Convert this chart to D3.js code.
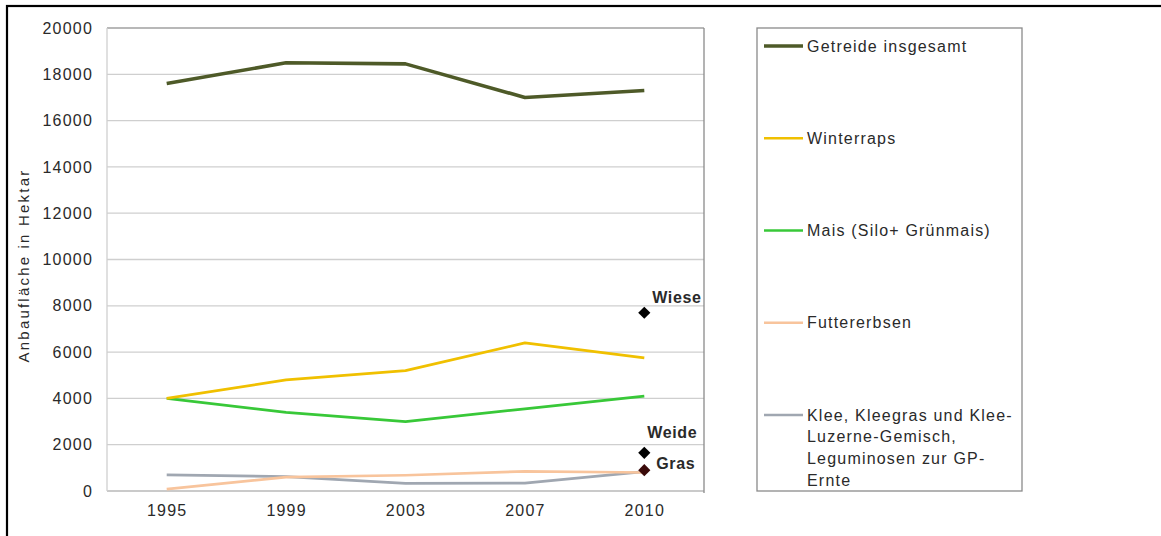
<!DOCTYPE html>
<html>
<head>
<meta charset="utf-8">
<script src="https://cdn.jsdelivr.net/npm/d3@7"></script>
<style>
  html, body { margin: 0; padding: 0; background: #fff; }
  svg { display: block; }
  text { font-family: "Liberation Sans", Arial, sans-serif; fill: #2a2a2a; }
</style>
</head>
<body>
<svg id="chart" width="1161" height="536"></svg>
<script>
// ---- data ----
const years = ["1995", "1999", "2003", "2007", "2010"];
const yTicks = [0, 2000, 4000, 6000, 8000, 10000, 12000, 14000, 16000, 18000, 20000];
const getreide = [17600, 18500, 18450, 17000, 17300];
const winterraps = [4000, 4800, 5200, 6400, 5750];
const mais = [4000, 3400, 3000, 3550, 4100];
const futtererbsen = [80, 600, 680, 850, 800];
const klee = [700, 620, 330, 340, 840];
const seriesNames = ["Getreide insgesamt", "Winterraps", "Mais (Silo+ Grünmais)", "Futtererbsen",
  "Klee, Kleegras und Klee-|Luzerne-Gemisch,|Leguminosen zur GP-|Ernte"];
const seriesColors = ["#4e5a28", "#f0c000", "#38c838", "#f8c49c", "#a0a7b1"];
const seriesWidths = [3.6, 2.7, 2.7, 2.7, 2.7];
const markerYear = "2010";
const markerNames = ["Wiese", "Weide", "Gras"];
const markerValues = [7700, 1650, 900];
const markerColors = ["#000", "#000", "#3a0a0a"];
const yTitle = "Anbaufläche in Hektar";

const seriesValues = [getreide, winterraps, mais, futtererbsen, klee];

// ---- layout ----
const svg = d3.select("#chart");
const plot = { left: 107, top: 28, right: 704, bottom: 491 };

// outer frame
svg.append("rect").attr("x", 7).attr("y", 6).attr("width", 1170).attr("height", 560)
  .attr("fill", "none").attr("stroke", "#000").attr("stroke-width", 2.2);

const x = d3.scalePoint().domain(years).range([plot.left, plot.right]).padding(0.5);
const y = d3.scaleLinear().domain([0, 20000]).range([plot.bottom, plot.top]);

// gridlines
svg.append("g").selectAll("line").data(yTicks).join("line")
  .attr("x1", plot.left).attr("x2", plot.right)
  .attr("y1", d => y(d)).attr("y2", d => y(d))
  .attr("stroke", d => (d === 20000 || d === 0) ? "#b8b8b8" : "#cfcfcf")
  .attr("stroke-width", d => (d === 20000) ? 2 : 1.3);

// plot left / right edges
svg.append("line").attr("x1", plot.left).attr("x2", plot.left)
  .attr("y1", plot.top).attr("y2", plot.bottom).attr("stroke", "#d0d0d0").attr("stroke-width", 1.3);
svg.append("line").attr("x1", plot.right).attr("x2", plot.right)
  .attr("y1", plot.top).attr("y2", plot.bottom + 2).attr("stroke", "#8a8a8a").attr("stroke-width", 1.3);

// y axis labels
const yAxis = d3.axisLeft(y).tickValues(yTicks).tickSize(0).tickPadding(14).tickFormat(d3.format("d"));
const gy = svg.append("g").attr("transform", `translate(${plot.left},0)`).call(yAxis);
gy.select(".domain").remove();
gy.selectAll("text").style("font-size", "16px").style("letter-spacing", "1.2px")
  .style("font-family", "'Liberation Sans', Arial, sans-serif").attr("fill", "#333");

// x axis labels
const xAxis = d3.axisBottom(x).tickSize(0).tickPadding(14);
const gx = svg.append("g").attr("transform", `translate(0,${plot.bottom})`).call(xAxis);
gx.select(".domain").remove();
gx.selectAll("text").style("font-size", "16px").style("letter-spacing", "1.2px")
  .style("font-family", "'Liberation Sans', Arial, sans-serif").attr("fill", "#333");

// y title
svg.append("text")
  .attr("transform", `translate(29,${(plot.top + plot.bottom) / 2 + 6}) rotate(-90)`)
  .attr("text-anchor", "middle")
  .style("font-size", "15px").style("letter-spacing", "2.2px")
  .text(yTitle);

// lines
const line = d3.line().x((d, i) => x(years[i])).y(d => y(d));
const order = [4, 3, 2, 1, 0];
order.forEach(i => {
  svg.append("path").datum(seriesValues[i])
    .attr("d", line)
    .attr("fill", "none")
    .attr("stroke", seriesColors[i])
    .attr("stroke-width", seriesWidths[i])
    .attr("stroke-linejoin", "round");
});

// markers
const diamond = d3.symbol().type(d3.symbolDiamond2).size(95);
svg.append("g").selectAll("path").data(markerValues).join("path")
  .attr("d", diamond)
  .attr("transform", d => `translate(${x(markerYear)},${y(d)})`)
  .attr("fill", (d, i) => markerColors[i]);

const markerLabelPos = [
  { dx: 8, dy: -15 },
  { dx: 3, dy: -20 },
  { dx: 12, dy: -7 }
];
svg.append("g").selectAll("text").data(markerValues).join("text")
  .attr("x", (d, i) => x(markerYear) + markerLabelPos[i].dx)
  .attr("y", (d, i) => y(d) + markerLabelPos[i].dy)
  .attr("dy", "0.35em")
  .style("font-size", "16px").style("font-weight", "bold").style("letter-spacing", "0.6px")
  .attr("fill", "#2a2a2a")
  .text((d, i) => markerNames[i]);

// legend
const legend = { x: 757, y: 28, w: 265, h: 463 };
svg.append("rect").attr("x", legend.x).attr("y", legend.y)
  .attr("width", legend.w).attr("height", legend.h)
  .attr("fill", "#fff").attr("stroke", "#8a8a8a").attr("stroke-width", 1.3);

const legendY = d3.scaleLinear().domain([0, 4]).range([46, 415]);
seriesNames.forEach((name, i) => {
  const cy = legendY(i);
  svg.append("line").attr("x1", 764).attr("x2", 803)
    .attr("y1", cy).attr("y2", cy)
    .attr("stroke", seriesColors[i]).attr("stroke-width", seriesWidths[i]);
  const t = svg.append("text").attr("x", 807).attr("y", cy)
    .style("font-size", "16px").style("letter-spacing", "1.2px");
  name.split("|").forEach((ln, k) => {
    t.append("tspan").attr("x", 807).attr("dy", k === 0 ? "0.35em" : "21.8px").text(ln);
  });
});
</script>
</body>
</html>
